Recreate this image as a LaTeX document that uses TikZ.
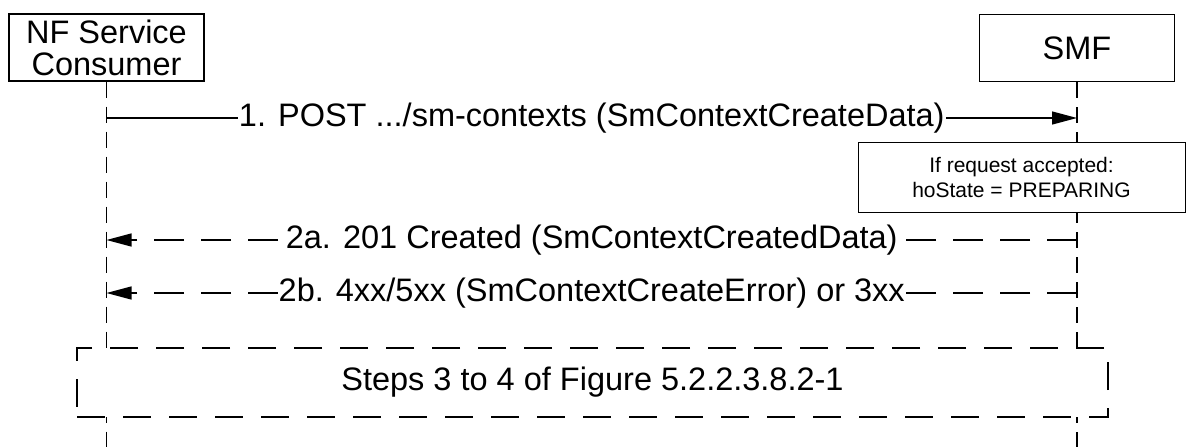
\documentclass[tikz,border=0pt]{standalone}
\usepackage{fontspec}
\setmainfont{Liberation Sans}
\usetikzlibrary{arrows.meta}

\tikzset{
  entity/.style={draw, fill=white, line width=1.3pt, minimum width=195pt, minimum height=67pt,
    align=center, font=\fontsize{32.5}{32}\selectfont},
  lifeline/.style={line width=1.3pt, dash pattern=on 16pt off 9pt},
  msg/.style={line width=1.3pt, -{Triangle[length=25pt,width=13pt]}},
  reply/.style={msg, dash pattern=on 30pt off 17pt},
  msglabel/.style={fill=white, inner xsep=1pt, inner ysep=0pt, font=\fontsize{32.5}{32}\selectfont},
  statenote/.style={draw, fill=white, line width=1pt, align=center, font=\fontsize{21}{25}\selectfont},
  stepsbox/.style={draw, fill=white, line width=1.3pt, dash pattern=on 28pt off 18pt,
    font=\fontsize{32.5}{32}\selectfont},
}

\begin{document}
\begin{tikzpicture}[x=1pt,y=-1pt]
  \useasboundingbox (0,0) rectangle (1187,447);
  \node[entity] (nfc) at (106.5,47.5) {NF Service\\Consumer};
  \node[entity] (smf) at (1077,48) {SMF};
  \coordinate (nfcend) at (106.5,447);
  \coordinate (smfend) at (1077,447);
  \draw[lifeline] (nfc) -- (nfcend);
  \draw[lifeline] (smf) -- (smfend);

  \coordinate (nfc1) at (106.5,118);
  \coordinate (smf1) at (1077,118);
  \draw[msg] (nfc1) -- node[msglabel] {1. POST .../sm-contexts (SmContextCreateData)} (smf1);

  \node[statenote, minimum width=327pt, minimum height=70pt] (state) at (1021.5,177)
    {If request accepted:\\hoState = PREPARING};

  \coordinate (nfc2a) at (106.5,240);
  \coordinate (smf2a) at (1077,240);
  \draw[reply] (smf2a) -- node[msglabel] {2a. 201 Created (SmContextCreatedData)} (nfc2a);

  \coordinate (nfc2b) at (106.5,293);
  \coordinate (smf2b) at (1077,293);
  \draw[reply] (smf2b) -- node[msglabel] {2b. 4xx/5xx (SmContextCreateError) or 3xx} (nfc2b);

  \node[stepsbox, minimum width=1031pt, minimum height=69pt] (steps) at (592.5,382.5)
    {Steps 3 to 4 of Figure 5.2.2.3.8.2-1};
\end{tikzpicture}
\end{document}
